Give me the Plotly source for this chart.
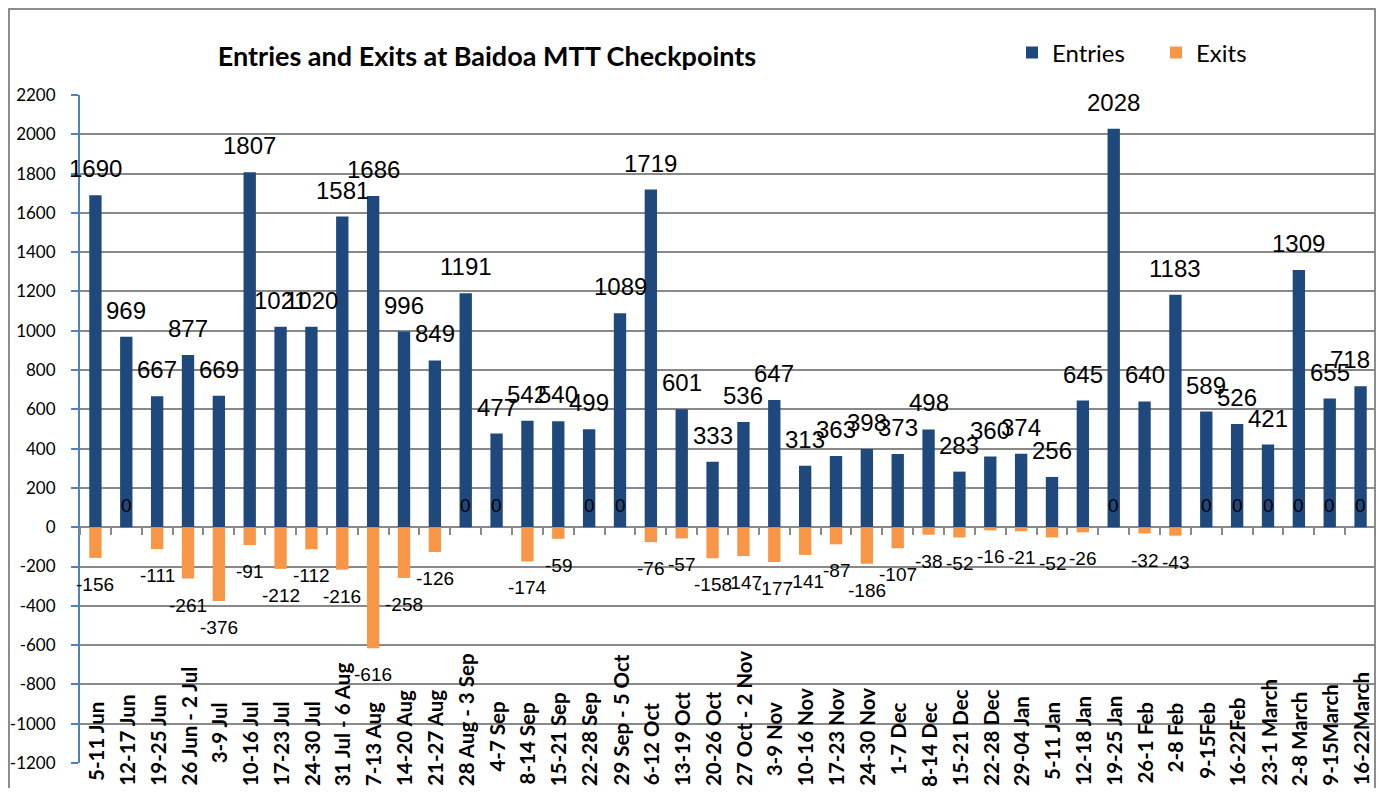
import plotly.graph_objects as go

categories = ["5-11 Jun", "12-17 Jun", "19-25 Jun", "26 Jun - 2 Jul", "3-9 Jul", "10-16 Jul",
              "17-23 Jul", "24-30 Jul", "31 Jul - 6 Aug", "7-13 Aug", "14-20 Aug", "21-27 Aug",
              "28 Aug - 3 Sep", "4-7 Sep", "8-14 Sep", "15-21 Sep", "22-28 Sep", "29 Sep - 5 Oct",
              "6-12 Oct", "13-19 Oct", "20-26 Oct", "27 Oct - 2 Nov", "3-9 Nov", "10-16 Nov",
              "17-23 Nov", "24-30 Nov", "1-7 Dec", "8-14 Dec", "15-21 Dec", "22-28 Dec",
              "29-04 Jan", "5-11 Jan", "12-18 Jan", "19-25 Jan", "26-1 Feb", "2-8 Feb",
              "9-15Feb", "16-22Feb", "23-1 March", "2-8 March", "9-15March", "16-22March"]

entries = [1690, 969, 667, 877, 669, 1807, 1021, 1020, 1581, 1686, 996, 849,
           1191, 477, 542, 540, 499, 1089, 1719, 601, 333, 536, 647, 313,
           363, 398, 373, 498, 283, 360, 374, 256, 645, 2028, 640, 1183,
           589, 526, 421, 1309, 655, 718]

exits = [-156, 0, -111, -261, -376, -91, -212, -112, -216, -616, -258, -126,
         0, 0, -174, -59, 0, 0, -76, -57, -158, -147, -177, -141,
         -87, -186, -107, -38, -52, -16, -21, -52, -26, 0, -32, -43,
         0, 0, 0, 0, 0, 0]

y_ticks = list(range(-1200, 2201, 200))

BLUE = "#1F497D"
ORANGE = "#F79646"
GRID = "#898989"
AXBLUE = "#4F81BD"

# the page has an 8px body margin: the figure starts at (8, 8) of the window;
# keep it inside the window so nothing overflows
OFF = 8
WIN_W, WIN_H = 1384, 796
W, H = WIN_W - 2 * OFF, WIN_H - 2 * OFF
# plot area in window pixels
PL, PR, PT, PB = 80, OFF + W, 95, 763
ML, MR, MT, MB = PL - OFF, OFF + W - PR, PT - OFF, OFF + H - PB
PH = PB - PT
PW = PR - PL
YMIN, YMAX = -1200, 2200
N = len(categories)


def py(pix):
    """window pixel row -> paper y fraction"""
    return (PB - pix) / PH


def px(pix):
    """window pixel column -> paper x fraction"""
    return (pix - PL) / PW


LABEL_FONT = "Liberation Sans, Arial, sans-serif"
EFS, XFS = 24, 19   # entries / exits label font sizes

fig = go.Figure()

fig.add_trace(go.Bar(x=categories, y=entries, name="Entries", marker_color=BLUE,
                     marker_line_width=0, hoverinfo="x+y"))
fig.add_trace(go.Bar(x=categories, y=exits, name="Exits", marker_color=ORANGE,
                     marker_line_width=0, hoverinfo="x+y"))

# data labels (kept inside the chart at the right edge)
for i, (c, v) in enumerate(zip(categories, entries)):
    centre = PL + (i + 0.5) * PW / N
    half = len(str(v)) * 0.556 * EFS / 2
    xa, xs = "center", 0
    if centre + half > PR - 3:
        xa, xs = "right", (PR - 4) - centre
    fig.add_annotation(x=c, y=v, xref="x", yref="y", text=str(v), showarrow=False,
                       xanchor=xa, xshift=xs, yanchor="bottom", yshift=11,
                       font=dict(family=LABEL_FONT, size=EFS, color="black"))

for c, v in zip(categories, exits):
    if v < 0:
        ya, ys = "top", -14
    else:
        ya, ys = "bottom", 9
    fig.add_annotation(x=c, y=v, xref="x", yref="y", text=str(v), showarrow=False,
                       xanchor="center", yanchor=ya, yshift=ys,
                       font=dict(family=LABEL_FONT, size=XFS, color="black"))

# category labels (rotated, top aligned; long ones pushed up to the bottom edge)
CW = {d: 0.58 for d in "0123456789"}
CW.update({"-": 0.37, " ": 0.2, "J": 0.41, "A": 0.70, "S": 0.56, "O": 0.77, "N": 0.76,
           "D": 0.76, "F": 0.56, "M": 0.90, "u": 0.56, "n": 0.56, "l": 0.25, "g": 0.51,
           "e": 0.52, "p": 0.56, "c": 0.46, "t": 0.36, "o": 0.57, "v": 0.52, "a": 0.51,
           "b": 0.56, "r": 0.38, "h": 0.56})
LFS = 20.5
TOP_PIX, BOT_PIX = 702, OFF + H - 2
for c in categories:
    est = sum(CW.get(ch, 0.55) for ch in c) * LFS
    if est <= (BOT_PIX - TOP_PIX):
        yv, ya = py(TOP_PIX), "top"
    else:
        yv, ya = py(BOT_PIX), "bottom"
    fig.add_annotation(x=c, xref="x", y=yv, yref="paper", text="<b>%s</b>" % c,
                       textangle=-90, showarrow=False, xanchor="center", yanchor=ya,
                       borderpad=0, borderwidth=0,
                       font=dict(family="Lato", size=LFS, color="black"))

# chart border
fig.add_shape(type="rect", xref="paper", yref="paper",
              x0=px(9), x1=px(PR - 1), y0=py(830), y1=py(9),
              line=dict(color="#8c8c8c", width=2), fillcolor="rgba(0,0,0,0)", layer="below")

fig.update_layout(
    width=W, height=H,
    margin=dict(l=ML, r=MR, t=MT, b=MB, autoexpand=False),
    paper_bgcolor="white", plot_bgcolor="white",
    barmode="overlay", bargap=0.6,
    title=dict(text="<b>Entries and Exits at Baidoa MTT Checkpoints</b>",
               x=(487 - OFF) / W, xref="container", xanchor="center",
               y=1 - (57 - OFF) / H, yref="container", yanchor="middle",
               font=dict(family="Lato", size=27, color="black")),
    legend=dict(orientation="h", x=px(1012), xanchor="left", y=py(53), yanchor="middle",
                font=dict(family="Lato", size=24, color="black"),
                entrywidth=99, entrywidthmode="pixels",
                bgcolor="rgba(0,0,0,0)", traceorder="normal"),
    showlegend=True,
    xaxis=dict(type="category", anchor="free", position=(0 - YMIN) / (YMAX - YMIN),
               showgrid=False, showline=False, showticklabels=False,
               ticks="outside", ticklen=7, tickwidth=1.5, tickcolor=GRID,
               tickson="boundaries", automargin=False, zeroline=False,
               range=[-0.5, N - 0.5]),
    yaxis=dict(range=[YMIN, YMAX], tickvals=y_ticks, ticktext=[str(v) for v in y_ticks],
               showgrid=True, gridcolor=GRID, gridwidth=2,
               zeroline=True, zerolinecolor=GRID, zerolinewidth=2,
               showline=True, linecolor=AXBLUE, linewidth=2,
               ticks="outside", ticklen=7, tickwidth=2, tickcolor=AXBLUE,
               ticklabelstandoff=12,
               tickfont=dict(family="Lato", size=17, color="black"),
               automargin=False),
    font=dict(family="Lato"),
)

fig.write_html("out.html")
